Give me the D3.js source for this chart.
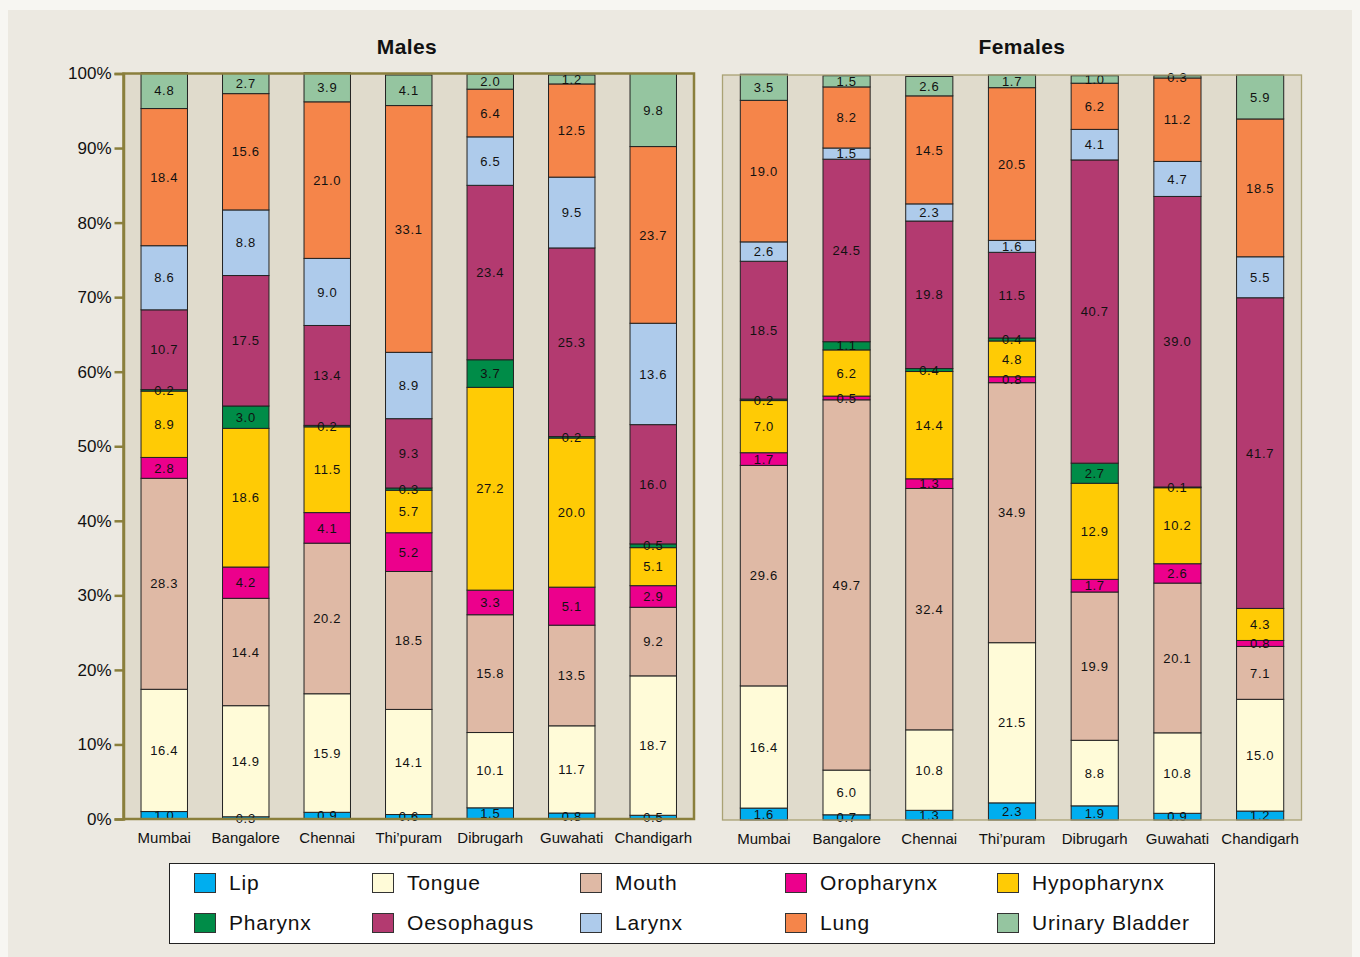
<!DOCTYPE html>
<html>
<head>
<meta charset="utf-8">
<script src="https://cdn.jsdelivr.net/npm/d3@7"></script>
<style>
  html, body { margin: 0; padding: 0; background: #ffffff; }
  svg { display: block; }
</style>
</head>
<body>
<svg id="chart" width="1360" height="957"></svg>
<script>
// ---------- DATA ----------
const cities = ["Mumbai", "Bangalore", "Chennai", "Thi\u2019puram", "Dibrugarh", "Guwahati", "Chandigarh"];
const sites = ["Lip", "Tongue", "Mouth", "Oropharynx", "Hypopharynx", "Pharynx", "Oesophagus", "Larynx", "Lung", "Urinary Bladder"];
const siteColors = ["#00aeef", "#fffbd8", "#dfb9a5", "#ec008c", "#ffcb05", "#008c48", "#b33a70", "#aecbeb", "#f5854a", "#95c5a0"];
const yTicks = [0, 10, 20, 30, 40, 50, 60, 70, 80, 90, 100];

// Males (order of sites)
const maleMumbai     = [1.0, 16.4, 28.3, 2.8, 8.9, 0.2, 10.7, 8.6, 18.4, 4.8];
const maleBangalore  = [0.3, 14.9, 14.4, 4.2, 18.6, 3.0, 17.5, 8.8, 15.6, 2.7];
const maleChennai    = [0.9, 15.9, 20.2, 4.1, 11.5, 0.2, 13.4, 9.0, 21.0, 3.9];
const maleThipuram   = [0.6, 14.1, 18.5, 5.2, 5.7, 0.3, 9.3, 8.9, 33.1, 4.1];
const maleDibrugarh  = [1.5, 10.1, 15.8, 3.3, 27.2, 3.7, 23.4, 6.5, 6.4, 2.0];
const maleGuwahati   = [0.8, 11.7, 13.5, 5.1, 20.0, 0.2, 25.3, 9.5, 12.5, 1.2];
const maleChandigarh = [0.5, 18.7, 9.2, 2.9, 5.1, 0.5, 16.0, 13.6, 23.7, 9.8];

// Females
const femaleMumbai     = [1.6, 16.4, 29.6, 1.7, 7.0, 0.2, 18.5, 2.6, 19.0, 3.5];
const femaleBangalore  = [0.7, 6.0, 49.7, 0.5, 6.2, 1.1, 24.5, 1.5, 8.2, 1.5];
const femaleChennai    = [1.3, 10.8, 32.4, 1.3, 14.4, 0.4, 19.8, 2.3, 14.5, 2.6];
const femaleThipuram   = [2.3, 21.5, 34.9, 0.8, 4.8, 0.4, 11.5, 1.6, 20.5, 1.7];
const femaleDibrugarh  = [1.9, 8.8, 19.9, 1.7, 12.9, 2.7, 40.7, 4.1, 6.2, 1.0];
const femaleGuwahati   = [0.9, 10.8, 20.1, 2.6, 10.2, 0.1, 39.0, 4.7, 11.2, 0.3];
const femaleChandigarh = [1.2, 15.0, 7.1, 0.8, 4.3, 0.0, 41.7, 5.5, 18.5, 5.9];

const maleRows = [maleMumbai, maleBangalore, maleChennai, maleThipuram, maleDibrugarh, maleGuwahati, maleChandigarh];
const femaleRows = [femaleMumbai, femaleBangalore, femaleChennai, femaleThipuram, femaleDibrugarh, femaleGuwahati, femaleChandigarh];

function buildTable(rows) {
  return rows.map((r, i) => {
    const o = { city: cities[i] };
    sites.forEach((s, j) => o[s] = r[j]);
    return o;
  });
}

// ---------- DRAW ----------
const svg = d3.select("#chart");
const W = 1360, H = 957;

svg.append("rect").attr("x", 0).attr("y", 0).attr("width", W).attr("height", H).attr("fill", "#f7f6f2");
svg.append("rect").attr("x", 8).attr("y", 10).attr("width", 1344).attr("height", 947).attr("fill", "#ece9e1");

const color = d3.scaleOrdinal().domain(sites).range(siteColors);
const stack = d3.stack().keys(sites);
const fmt = d3.format(".1f");

function panel(opts) {
  const { rows, x0, x1, yTop, yBottom, title, titleX, showAxis, borderColor, borderWidth } = opts;
  const data = buildTable(rows);
  const series = stack(data);

  const x = d3.scaleBand().domain(cities).range([x0, x1]).paddingInner(0.43).paddingOuter(0.215);
  const y = d3.scaleLinear().domain([0, 100]).range([yBottom, yTop]);

  const g = svg.append("g");

  // plot background
  g.append("rect")
    .attr("x", x0).attr("y", yTop)
    .attr("width", x1 - x0).attr("height", yBottom - yTop)
    .attr("fill", "#e0dbcc");

  // bars
  const sg = g.selectAll("g.series").data(series).enter().append("g")
    .attr("fill", d => color(d.key));
  sg.selectAll("rect").data(d => d.filter(p => (p[1] - p[0]) > 0)).enter().append("rect")
    .attr("x", d => x(d.data.city))
    .attr("width", x.bandwidth())
    .attr("y", d => y(d[1]))
    .attr("height", d => y(d[0]) - y(d[1]))
    .attr("stroke", "#222")
    .attr("stroke-width", 1);

  // value labels
  const lg = g.append("g")
    .attr("font-family", "'Liberation Sans', Arial, sans-serif")
    .attr("font-size", 13)
    .attr("letter-spacing", "0.7px")
    .attr("fill", "#111")
    .attr("text-anchor", "middle");
  series.forEach(s => {
    s.forEach(p => {
      const v = p.data[s.key];
      if (v <= 0) return;
      lg.append("text")
        .attr("x", x(p.data.city) + x.bandwidth() / 2)
        .attr("y", y((p[0] + p[1]) / 2))
        .attr("dy", "0.36em")
        .text(fmt(v));
    });
  });

  // border
  g.append("rect")
    .attr("x", x0).attr("y", yTop)
    .attr("width", x1 - x0).attr("height", yBottom - yTop)
    .attr("fill", "none")
    .attr("stroke", borderColor)
    .attr("stroke-width", borderWidth);

  // y axis
  if (showAxis) {
    const ax = g.append("g")
      .attr("transform", `translate(${x0},0)`)
      .call(d3.axisLeft(y).tickValues(yTicks).tickSize(9).tickPadding(3).tickFormat(d => d + "%"));
    ax.select(".domain").attr("stroke", borderColor).attr("stroke-width", 2.5);
    ax.selectAll(".tick line").attr("stroke", borderColor).attr("stroke-width", 2.5);
    ax.selectAll(".tick text")
      .attr("font-family", "'Liberation Sans', Arial, sans-serif")
      .attr("font-size", 17)
      .attr("fill", "#111");
  }

  // category labels
  g.append("g").selectAll("text").data(cities).enter().append("text")
    .attr("x", d => x(d) + x.bandwidth() / 2)
    .attr("y", yBottom + 24)
    .attr("text-anchor", "middle")
    .attr("font-family", "'Liberation Sans', Arial, sans-serif")
    .attr("font-size", 15)
    .attr("fill", "#111")
    .text(d => d);

  // title
  g.append("text")
    .attr("x", titleX).attr("y", 54)
    .attr("text-anchor", "middle")
    .attr("font-family", "'Liberation Sans', Arial, sans-serif")
    .attr("font-weight", "bold")
    .attr("font-size", 21)
    .attr("letter-spacing", "0.4px")
    .attr("fill", "#111")
    .text(title);
}

panel({ rows: maleRows, x0: 123.5, x1: 694, yTop: 73.5, yBottom: 819, title: "Males", titleX: 407,
        showAxis: true, borderColor: "#8a7f3c", borderWidth: 2.5 });
panel({ rows: femaleRows, x0: 722.5, x1: 1301.5, yTop: 75, yBottom: 820, title: "Females", titleX: 1022,
        showAxis: false, borderColor: "#aaa274", borderWidth: 1.3 });

// ---------- LEGEND ----------
const legend = svg.append("g");
legend.append("rect")
  .attr("x", 169.5).attr("y", 863.5).attr("width", 1045).attr("height", 80)
  .attr("fill", "#ffffff").attr("stroke", "#222").attr("stroke-width", 1);
const colX = [194, 372, 580, 785, 997];
const rowY = [873, 913];
sites.forEach((s, i) => {
  const cx = colX[i % 5], cy = rowY[Math.floor(i / 5)];
  legend.append("rect")
    .attr("x", cx + 0.5).attr("y", cy + 0.5).attr("width", 21).attr("height", 19)
    .attr("fill", color(s)).attr("stroke", "#333").attr("stroke-width", 1);
  legend.append("text")
    .attr("x", cx + 35).attr("y", cy + 17)
    .attr("font-family", "'Liberation Sans', Arial, sans-serif")
    .attr("font-size", 21)
    .attr("letter-spacing", "0.8px")
    .attr("fill", "#111")
    .text(s);
});
</script>
</body>
</html>
